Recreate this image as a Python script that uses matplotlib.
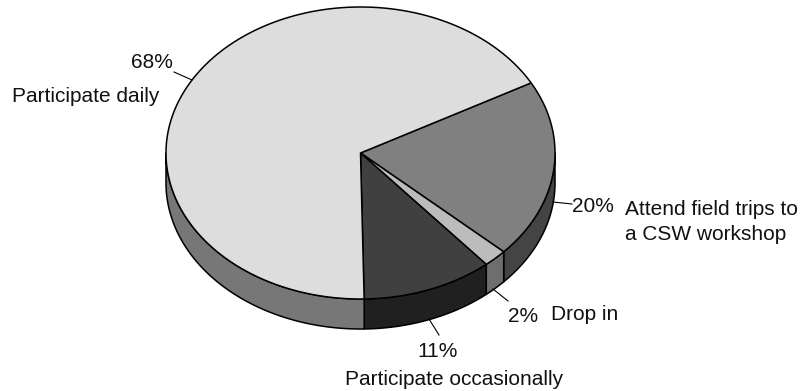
import matplotlib
matplotlib.use('Agg')
import matplotlib.pyplot as plt
from matplotlib.patches import Polygon
import numpy as np

# slices in clockwise order, starting from the upper right
labels = ['Attend field trips to\na CSW workshop', 'Drop in', 'Participate occasionally', 'Participate daily']
values = [20, 2, 11, 68]
top_colors = ['#808080', '#bcbcbc', '#404040', '#dddddd']
side_colors = ['#444444', '#6e6e6e', '#202020', '#777777']

# pie geometry in pixels
cx, cy = 360.5, 153
rx, ry = 194.5, 146
depth = 30
start_angle = 28.7


def arc(t1, t2, dy=0):
    t = np.radians(np.linspace(t1, t2, max(int(abs(t2 - t1) * 2), 2)))
    return np.column_stack([cx + rx * np.cos(t), cy + dy - ry * np.sin(t)])


fig = plt.figure(figsize=(8.01, 3.91), dpi=100)
ax = fig.add_axes([0, 0, 1, 1])
ax.set_xlim(0, 801)
ax.set_ylim(391, 0)
ax.axis('off')

sweeps = np.array(values) / sum(values) * 360
stops = start_angle - np.cumsum(sweeps)
starts = stops + sweeps

# side wall only shows on the front half of the ellipse
for a, b, col in zip(starts, stops, side_colors):
    for offset in (0, -360):
        hi = min(a + offset, 0)
        lo = max(b + offset, -180)
        if hi > lo:
            upper = arc(hi, lo)
            lower = arc(lo, hi, depth)
            ax.add_patch(Polygon(np.vstack([upper, lower]), closed=True, fc=col, ec='black', lw=1.1, joinstyle='round'))

for a, b, col in zip(starts, stops, top_colors):
    pts = np.vstack([[cx, cy], arc(a, b)])
    ax.add_patch(Polygon(pts, closed=True, fc=col, ec='black', lw=1.1, joinstyle='round'))

# leader lines
leaders = [((553, 202), (572, 204)), ((493, 289), (508, 301)), ((429, 319), (439, 335)), ((192, 80), (174, 72))]
for p, q in leaders:
    ax.plot([p[0], q[0]], [p[1], q[1]], color='black', lw=0.8)

font = dict(family='Liberation Sans', fontsize=15, color='#111111', va='baseline')
ax.text(152, 68, '68%', ha='center', **font)
ax.text(12, 101.5, labels[3], ha='left', **font)
ax.text(572, 212.5, '20%', ha='left', **font)
ax.text(625, 240, labels[0], ha='left', linespacing=1.4, **font)
ax.text(508, 321.5, '2%', ha='left', **font)
ax.text(551, 320, labels[1], ha='left', **font)
ax.text(438, 357, '11%', ha='center', **font)
ax.text(454, 385, labels[2], ha='center', **font)

fig.savefig('out.png', dpi=100)
